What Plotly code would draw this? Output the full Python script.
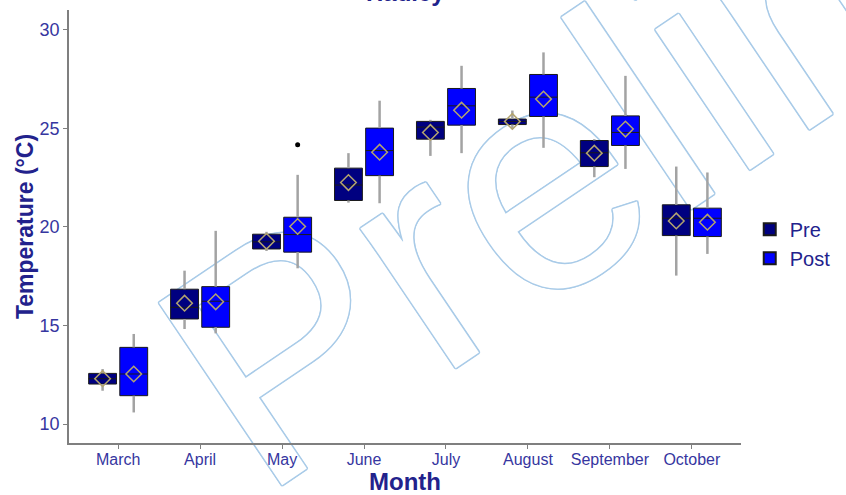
import numpy as np
import plotly.graph_objects as go

months = ["March", "April", "May", "June", "July", "August", "September", "October"]

# Pre-period summary statistics (°C)
pre_low = [11.69, 14.82, 18.78, 21.23, 23.60, 24.96, 22.52, 17.53]
pre_q1 = [12.03, 15.33, 18.88, 21.34, 24.45, 25.19, 23.06, 19.56]
pre_med = [12.30, 15.92, 19.24, 22.12, 25.06, 25.35, 23.76, 20.44]
pre_q3 = [12.57, 16.84, 19.63, 22.98, 25.35, 25.47, 24.38, 21.12]
pre_high = [12.79, 17.78, 19.75, 23.74, 25.43, 25.90, 24.45, 23.06]
pre_mean = [12.30, 16.13, 19.27, 22.25, 24.79, 25.35, 23.74, 20.30]

# Post-period summary statistics (°C)
post_low = [10.59, 14.60, 17.90, 21.20, 23.74, 24.01, 22.94, 18.63]
post_q1 = [11.44, 14.91, 18.72, 22.60, 25.16, 25.60, 24.13, 19.51]
post_med = [12.54, 16.23, 19.61, 23.87, 26.14, 26.58, 24.79, 20.44]
post_q3 = [13.89, 16.97, 20.49, 25.01, 27.02, 27.73, 25.63, 20.95]
post_high = [14.57, 19.80, 22.64, 26.40, 28.17, 28.85, 27.66, 22.76]
post_mean = [12.54, 16.20, 20.02, 23.79, 25.92, 26.48, 24.96, 20.24]

# Outliers
out_month = ["May"]
out_val = [24.16]

y_ticks = [10, 15, 20, 25, 30]

FONT = "Arial, Liberation Sans, sans-serif"
PRE_FILL = "#000080"
POST_FILL = "#0000FF"
WHISKER = "#a3a3a3"
MEAN_COL = "#b3a46e"
TXT = "#22228c"
TICK_TXT = "#3636a0"

dodge = 0.19
box_w = 0.34
idx = np.arange(1, len(months) + 1)
pos_pre = idx - dodge
pos_post = idx + dodge


def whisker_xy(pos, low, q1, q3, high):
    xs, ys = [], []
    for p, lo, a, b, hi in zip(pos, low, q1, q3, high):
        xs += [p, p, None, p, p, None]
        ys += [lo, a, None, b, hi, None]
    return xs, ys


fig = go.Figure()

for name, pos, low, q1, med, q3, high, mean, fill in [
    ("Pre", pos_pre, pre_low, pre_q1, pre_med, pre_q3, pre_high, pre_mean, PRE_FILL),
    ("Post", pos_post, post_low, post_q1, post_med, post_q3, post_high, post_mean, POST_FILL),
]:
    fig.add_trace(go.Box(
        name=name, x=pos, q1=q1, median=med, q3=q3,
        lowerfence=q1, upperfence=q3,
        width=box_w, whiskerwidth=0,
        fillcolor=fill, line=dict(color="#1a1a1a", width=1),
        boxpoints=False, showlegend=True, hoverinfo="skip",
    ))
    wx, wy = whisker_xy(pos, low, q1, q3, high)
    fig.add_trace(go.Scatter(
        x=wx, y=wy, mode="lines", line=dict(color=WHISKER, width=2.5),
        showlegend=False, hoverinfo="skip",
    ))
    fig.add_trace(go.Scatter(
        x=pos, y=mean, mode="markers",
        marker=dict(symbol="diamond-open", size=12, color=MEAN_COL, line=dict(width=1.5)),
        showlegend=False, hoverinfo="skip",
    ))

out_pos = [pos_post[months.index(m)] for m in out_month]
fig.add_trace(go.Scatter(
    x=out_pos, y=out_val, mode="markers",
    marker=dict(symbol="circle", size=5, color="black"),
    showlegend=False, hoverinfo="skip",
))

# "Preliminary" watermark, outlined, behind the data
outline = "#a9cbe8"
shadow = ", ".join(
    f"{dx}px {dy}px 0 {outline}"
    for dx, dy in [(1.5, 0), (-1.5, 0), (0, 1.5), (0, -1.5), (1, 1), (-1, -1), (1, -1), (-1, 1)]
)
fig.add_shape(
    type="rect", xref="paper", yref="paper",
    x0=0.315, x1=0.321, y0=-0.218, y1=-0.212,
    line=dict(width=0), fillcolor="rgba(0,0,0,0)", layer="below",
    label=dict(
        text="Preliminary", textangle=-34, textposition="middle center",
        xanchor="left", yanchor="bottom",
        font=dict(family=FONT, size=320, color="white", shadow=shadow),
    ),
)

fig.add_annotation(
    text="<b>Hadley</b>", xref="paper", yref="paper",
    x=0.5, y=1.0 + 2 / 433, xanchor="center", yanchor="bottom",
    showarrow=False, font=dict(family=FONT, size=24, color=TXT),
)

fig.update_layout(
    width=846, height=495,
    margin=dict(l=69, r=105, t=10, b=52, autoexpand=False),
    paper_bgcolor="white", plot_bgcolor="white",
    font=dict(family=FONT, color=TXT),
    legend=dict(
        x=1.013, y=0.46, xanchor="left", yanchor="middle",
        font=dict(family=FONT, size=20, color=TXT),
        bgcolor="rgba(0,0,0,0)", itemsizing="constant",
        tracegroupgap=0,
    ),
    xaxis=dict(
        range=[0.4, len(months) + 0.6], tickmode="array",
        tickvals=list(idx), ticktext=months,
        showline=True, linecolor="#7f7f7f", linewidth=1.5,
        ticks="outside", ticklen=4, tickcolor="#7f7f7f",
        ticklabelstandoff=-3,
        showgrid=False, zeroline=False,
        tickfont=dict(family=FONT, size=16, color=TICK_TXT),
        title=dict(text="<b>Month</b>", font=dict(family=FONT, size=24, color=TXT), standoff=6),
    ),
    yaxis=dict(
        range=[9.04, 31.0], tickvals=y_ticks,
        showline=True, linecolor="#7f7f7f", linewidth=1.5,
        ticks="outside", ticklen=4, tickcolor="#7f7f7f",
        showgrid=False, zeroline=False,
        tickfont=dict(family=FONT, size=18, color=TICK_TXT),
        title=dict(text="<b>Temperature (°C)</b>", font=dict(family=FONT, size=23, color=TXT), standoff=0),
    ),
)

fig.write_html("out.html")
